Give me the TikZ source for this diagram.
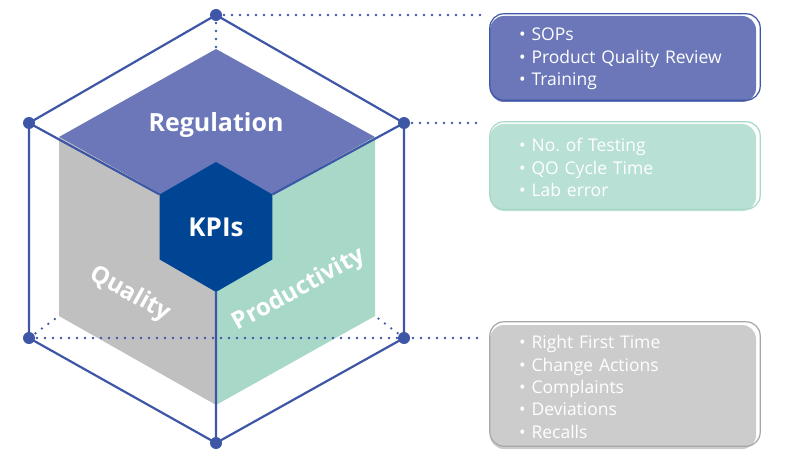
\documentclass[tikz,border=0pt]{standalone}
\usepackage{fontspec}
\setmainfont{Open Sans}
\usetikzlibrary{shapes.geometric, calc}
\definecolor{hexblue}{RGB}{61,86,166}
\definecolor{regviolet}{RGB}{107,119,184}
\definecolor{qualgray}{RGB}{192,192,192}
\definecolor{prodgreen}{RGB}{168,216,200}
\definecolor{kpiblue}{RGB}{0,68,148}
\definecolor{boxgreen}{RGB}{184,224,212}
\definecolor{boxgray}{RGB}{204,204,204}
\newcommand\bul{\textbullet\hspace{6pt}}
\frenchspacing

\begin{document}
\begin{tikzpicture}[x=1pt,y=-1pt,
  hexline/.style={hexblue,line width=2.2pt},
  dotline/.style={hexblue,line width=2.6pt,line cap=round,dash pattern=on 0pt off 8pt},
  dot/.style={circle,fill=hexblue,inner sep=0pt,minimum size=12pt},
  facetext/.style={text=white,font=\bfseries\fontsize{24}{28}\selectfont},
  listbox/.style={rounded corners=14pt,minimum width=266pt,text width=208pt,inner xsep=29pt,
    inner ysep=2pt,align=left,text=white,font=\fontsize{17.5}{22.3}\selectfont}]
  \useasboundingbox (0,0) rectangle (791,449);
  % Cube faces
  \fill[regviolet](216,49)--(375,137)--(216,225)--(59,137)--cycle;
  \fill[qualgray](59,137)--(216,225)--(216,405)--(59,316)--cycle;
  \fill[prodgreen](375,137)--(216,225)--(216,405)--(375,316)--cycle;
  \node[facetext,font=\bfseries\fontsize{25}{28}\selectfont] (reg) at (216,125){Regulation};
  \node[facetext,rotate=-29] (qual) at (130,294){Quality};
  \node[facetext,rotate=29] (prod) at (299,290){Productivity};
  % Centre hexagon
  \node[regular polygon,regular polygon sides=6,shape border rotate=30,minimum size=130pt,
    fill=kpiblue,inner sep=0pt,outer sep=0pt,text=white,font=\bfseries\fontsize{26}{28}\selectfont]
    (kpi) at (216,227){KPIs};
  % Outer hexagon
  \coordinate (o1) at (216,15);
  \coordinate (o2) at (404,123);
  \coordinate (o3) at (404,338);
  \coordinate (o4) at (216,443);
  \coordinate (o5) at (29,338);
  \coordinate (o6) at (29,123);
  \coordinate (ctop) at (216,49);
  \coordinate (cleft) at (59,316);
  \coordinate (cright) at (375,316);
  % List boxes
  \node[listbox,fill=regviolet,minimum height=86pt] (regbox) at (623,59)
    {\bul SOPs\\\bul Product Quality Review\\\bul Training};
  \draw[hexblue,line width=1.2pt,rounded corners=14pt]
    ([shift={(0,-2)}]regbox.south west) rectangle ([shift={(4,-2)}]regbox.north east);
  \node[listbox,fill=boxgreen,minimum height=87pt] (prodbox) at (623,167.5)
    {\bul No. of Testing\\\bul QO Cycle Time\\\bul Lab error};
  \draw[prodgreen,line width=1.2pt,rounded corners=14pt]
    ([shift={(0,-2)}]prodbox.south west) rectangle ([shift={(4,-2)}]prodbox.north east);
  \node[listbox,fill=boxgray,minimum height=124pt] (qualbox) at (623,387)
    {\bul Right First Time\\\bul Change Actions\\\bul Complaints\\\bul Deviations\\\bul Recalls};
  \draw[gray!70,line width=1.2pt,rounded corners=14pt]
    ([shift={(0,-3)}]qualbox.south west) rectangle ([shift={(4,-3)}]qualbox.north east);
  % Dotted guides
  \coordinate (e1) at (480,15);
  \coordinate (e2) at (480,123);
  \coordinate (e3) at (480,338);
  \draw[dotline](o1)--(ctop);
  \draw[dotline](o5)--(cleft);
  \draw[dotline](o3)--(cright);
  \draw[dotline](o1)--(e1);
  \draw[dotline](o2)--(e2);
  \draw[dotline](o5)--(e3);
  % Solid lines
  \draw[hexline](o1)--(o2)--(o3)--(o4)--(o5)--(o6)--cycle;
  \draw[hexline](o6)--(kpi.150);
  \draw[hexline](o2)--(kpi.30);
  \draw[hexline](kpi.270)--(o4);
  \foreach \p in {o1,o2,o3,o4,o5,o6} \node[dot] at (\p){};
\end{tikzpicture}
\end{document}
